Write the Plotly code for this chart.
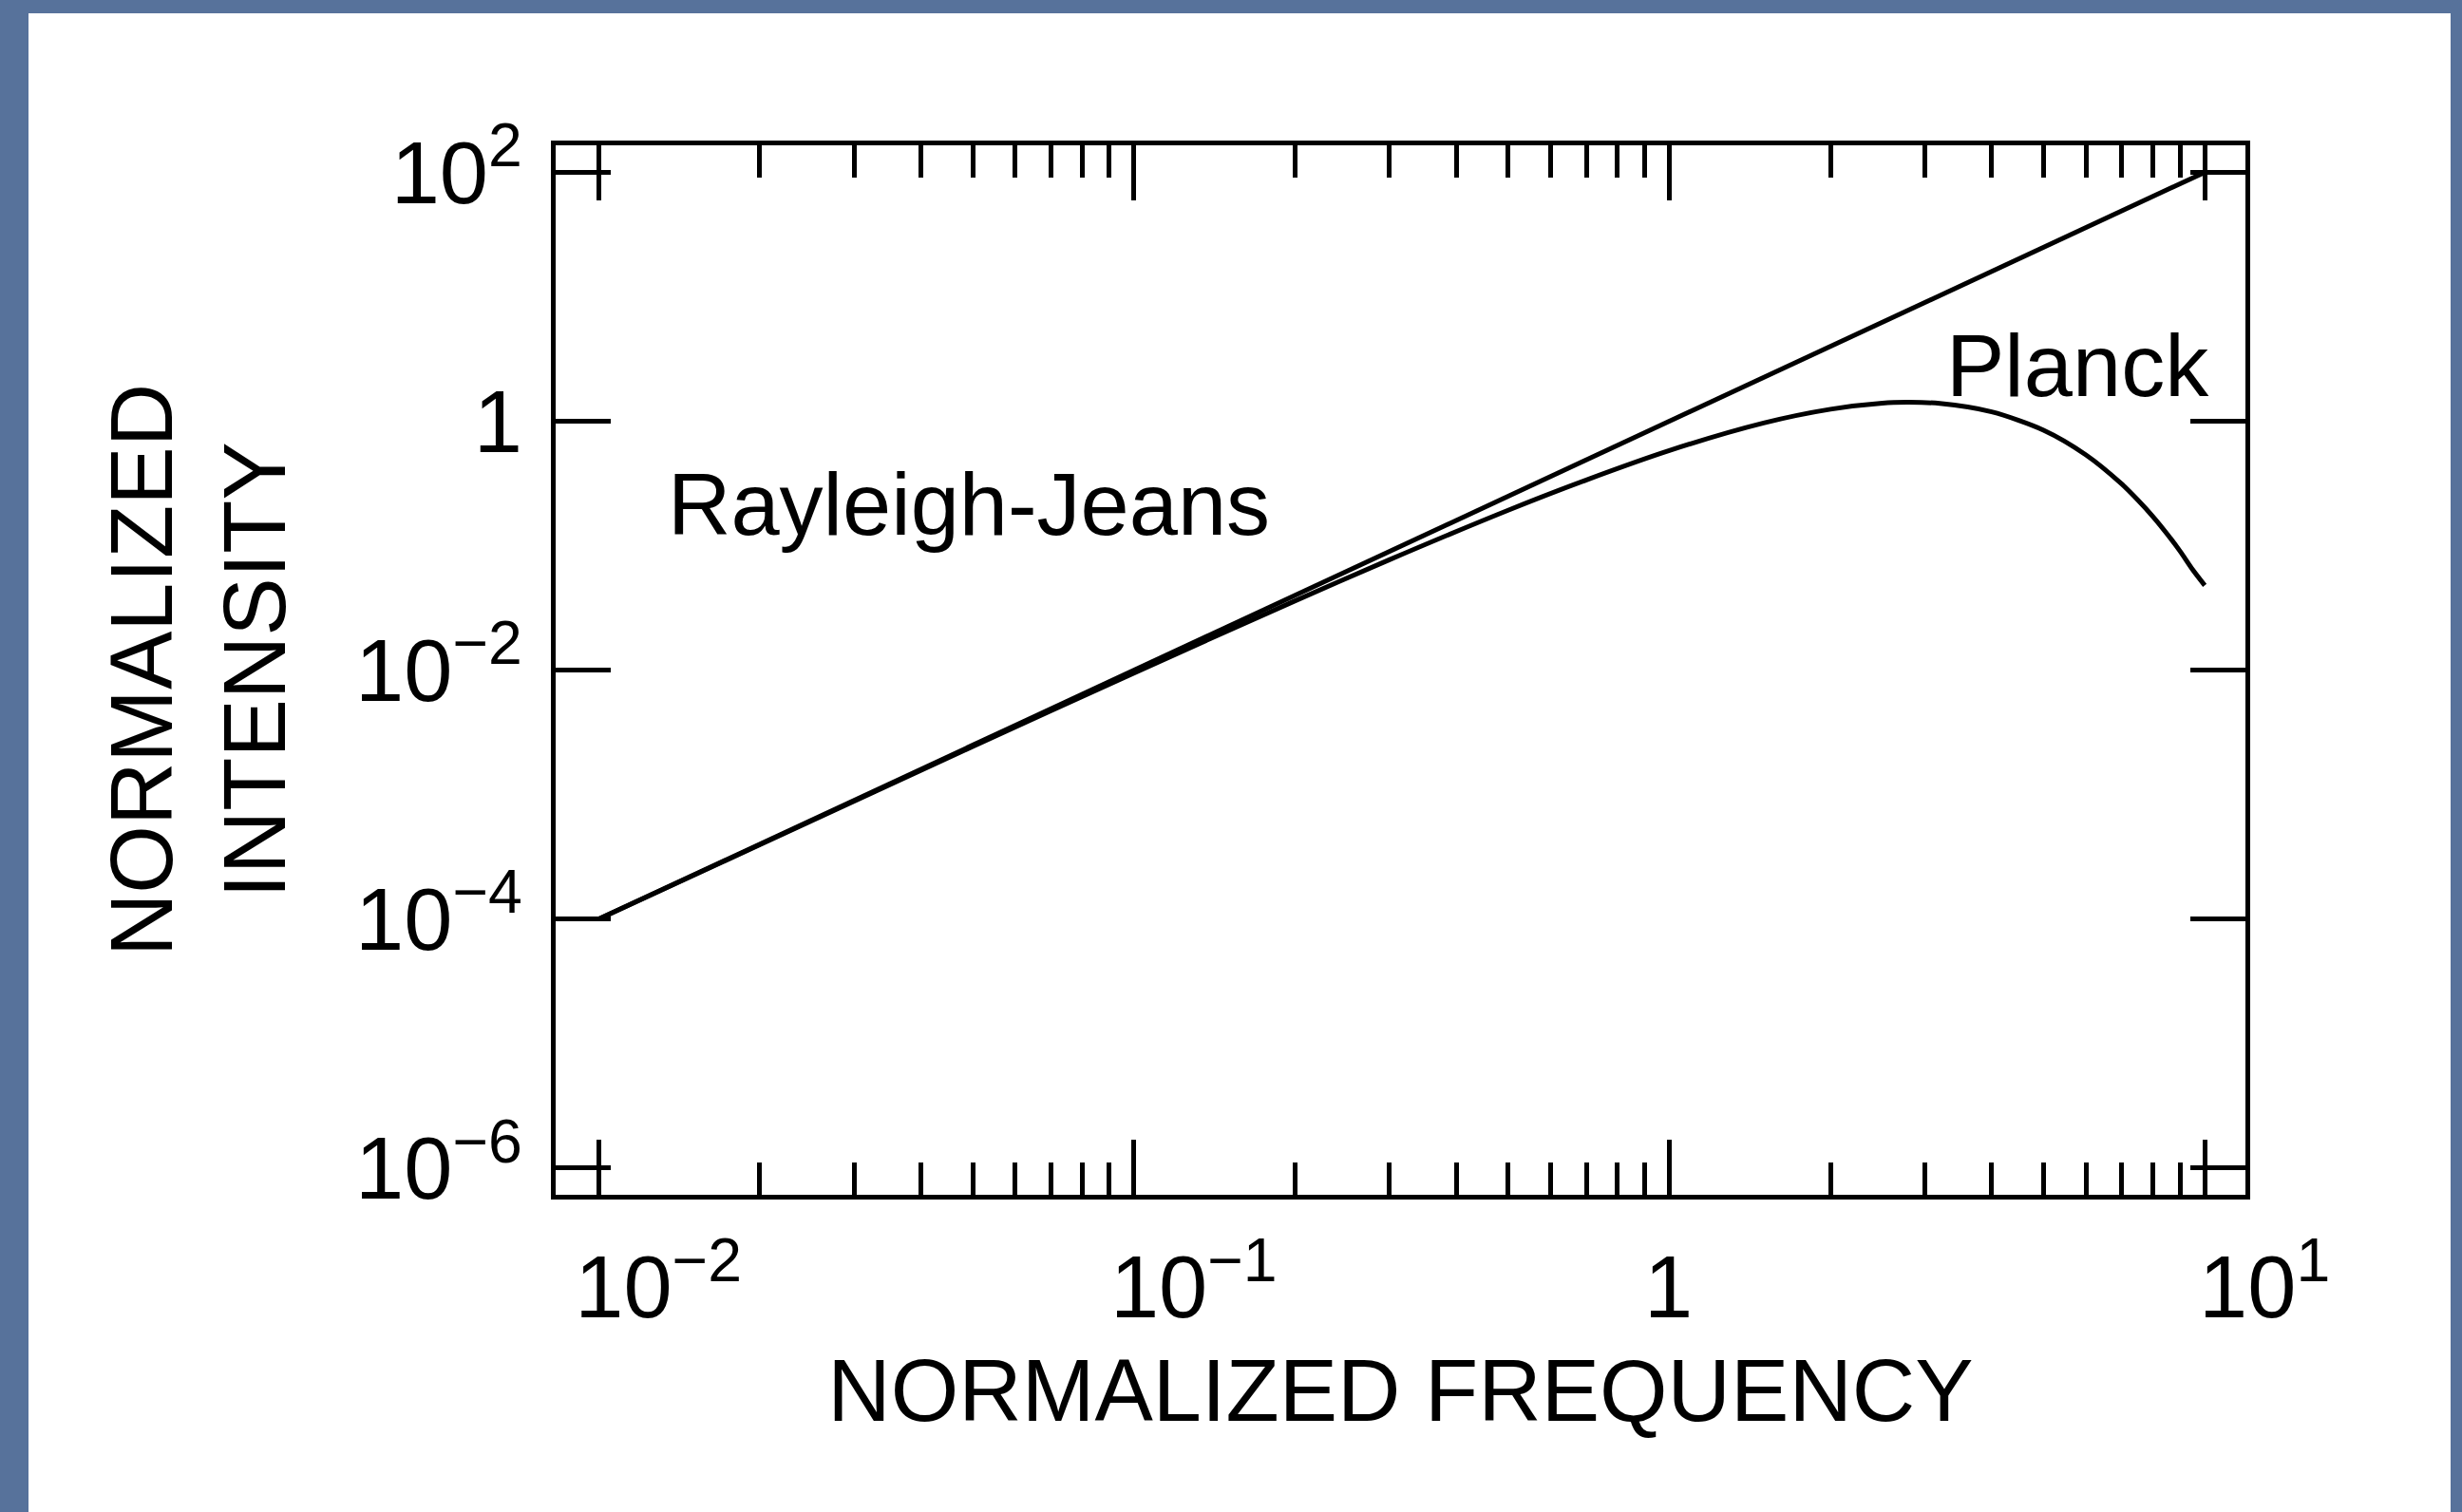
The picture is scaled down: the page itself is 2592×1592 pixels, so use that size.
import plotly.graph_objects as go

# ---- data -------------------------------------------------------------
# Rayleigh-Jeans law: straight line of slope 2 on log-log axes
rj_freq = [0.01, 0.1, 1.0, 10.0]
rj_intensity = [1.0e-4, 1.0e-2, 1.0, 100.0]

# Planck law: follows Rayleigh-Jeans at low frequency, peaks near 3, then falls
planck_freq = [0.01, 0.02, 0.05, 0.1, 0.2, 0.3, 0.5, 0.7, 1.0, 1.5, 2.0,
               2.5, 2.8, 3.2, 4.0, 5.0, 6.0, 7.0, 7.5, 8.0, 8.5, 9.0, 9.5,
               10.0]
planck_intensity = [1.0e-4, 3.96e-4, 2.44e-3, 9.5e-3, 0.0361, 0.0772, 0.193,
                    0.338, 0.582, 0.969, 1.25, 1.40, 1.42, 1.39, 1.19, 0.848,
                    0.537, 0.313, 0.233, 0.172, 0.125, 0.090, 0.064, 0.048]

x_tick_vals = [0.01, 0.1, 1.0, 10.0]
x_tick_text = ["10<sup>\u22122</sup>", "10<sup>\u22121</sup>",
               "1\u00a0\u00a0\u00a0\u00a0\u00a0", "10<sup>1</sup>"]
x_minor_vals = [m * 10.0 ** k for k in (-2, -1, 0) for m in range(2, 10)]

y_tick_vals = [1e-6, 1e-4, 1e-2, 1.0, 1e2]
y_tick_text = ["10<sup>\u22126</sup>", "10<sup>\u22124</sup>",
               "10<sup>\u22122</sup>", "1", "10<sup>2</sup>"]

# ---- layout geometry (pixels) ----------------------------------------
W, H = 2592, 1592
L, R, T, B = 585, 228, 153, 334
PW, PH = W - L - R, H - T - B
FONT = "Liberation Sans, Arial, Helvetica, sans-serif"
BLUE = "#57729b"


def px_x(px):
    return (px - L) / PW


def px_y(py):
    return (H - B - py) / PH


fig = go.Figure()

fig.add_trace(go.Scatter(
    x=rj_freq, y=rj_intensity, mode="lines", name="Rayleigh-Jeans",
    line=dict(color="black", width=5), showlegend=False, hoverinfo="skip"))

fig.add_trace(go.Scatter(
    x=planck_freq, y=planck_intensity, mode="lines", name="Planck",
    line=dict(color="black", width=5, shape="spline", smoothing=0.8),
    showlegend=False, hoverinfo="skip"))

axis_common = dict(
    type="log", showline=True, linecolor="black", linewidth=4.5,
    mirror="ticks", ticks="inside", tickcolor="black", tickwidth=4.5,
    showgrid=False, zeroline=False,
    tickfont=dict(family=FONT, size=92, color="black"),
)

fig.update_xaxes(
    **axis_common,
    range=[-2.080, 1.076], tickmode="array",
    tickvals=x_tick_vals, ticktext=x_tick_text, ticklen=58,
    ticklabelstandoff=14, ticklabelshift=63,
    minor=dict(ticks="inside", tickmode="array", tickvals=x_minor_vals,
               ticklen=34, tickwidth=4.5, tickcolor="black", showgrid=False),
    title=dict(text="NORMALIZED FREQUENCY", standoff=28,
               font=dict(family=FONT, size=92, color="black")),
)

fig.update_yaxes(
    **axis_common,
    range=[-6.214, 2.217], tickmode="array",
    tickvals=y_tick_vals, ticktext=y_tick_text, ticklen=58,
    ticklabelstandoff=12,
    title=dict(text="NORMALIZED<br>INTENSITY", standoff=44,
               font=dict(family=FONT, size=92, color="black")),
)

fig.add_annotation(x=-1.308, y=-0.67, xref="x", yref="y",
                   text="Rayleigh-Jeans", showarrow=False,
                   xanchor="center", yanchor="middle",
                   font=dict(family=FONT, size=92, color="black"))
fig.add_annotation(x=0.762, y=0.445, xref="x", yref="y",
                   text="Planck", showarrow=False,
                   xanchor="center", yanchor="middle",
                   font=dict(family=FONT, size=92, color="black"))

# blue page border on left, top and right
for x0, y0, x1, y1 in [(0, 0, 30, H), (0, 0, W, 14), (2580, 0, W, H)]:
    fig.add_shape(type="rect", xref="paper", yref="paper",
                  x0=px_x(x0), x1=px_x(x1), y0=px_y(y1), y1=px_y(y0),
                  fillcolor=BLUE, line=dict(width=0), layer="above")

fig.update_layout(
    width=W, height=H,
    margin=dict(l=L, r=R, t=T, b=B, autoexpand=False),
    paper_bgcolor="white", plot_bgcolor="white",
    font=dict(family=FONT, color="black"),
)

fig.write_html("out.html")
